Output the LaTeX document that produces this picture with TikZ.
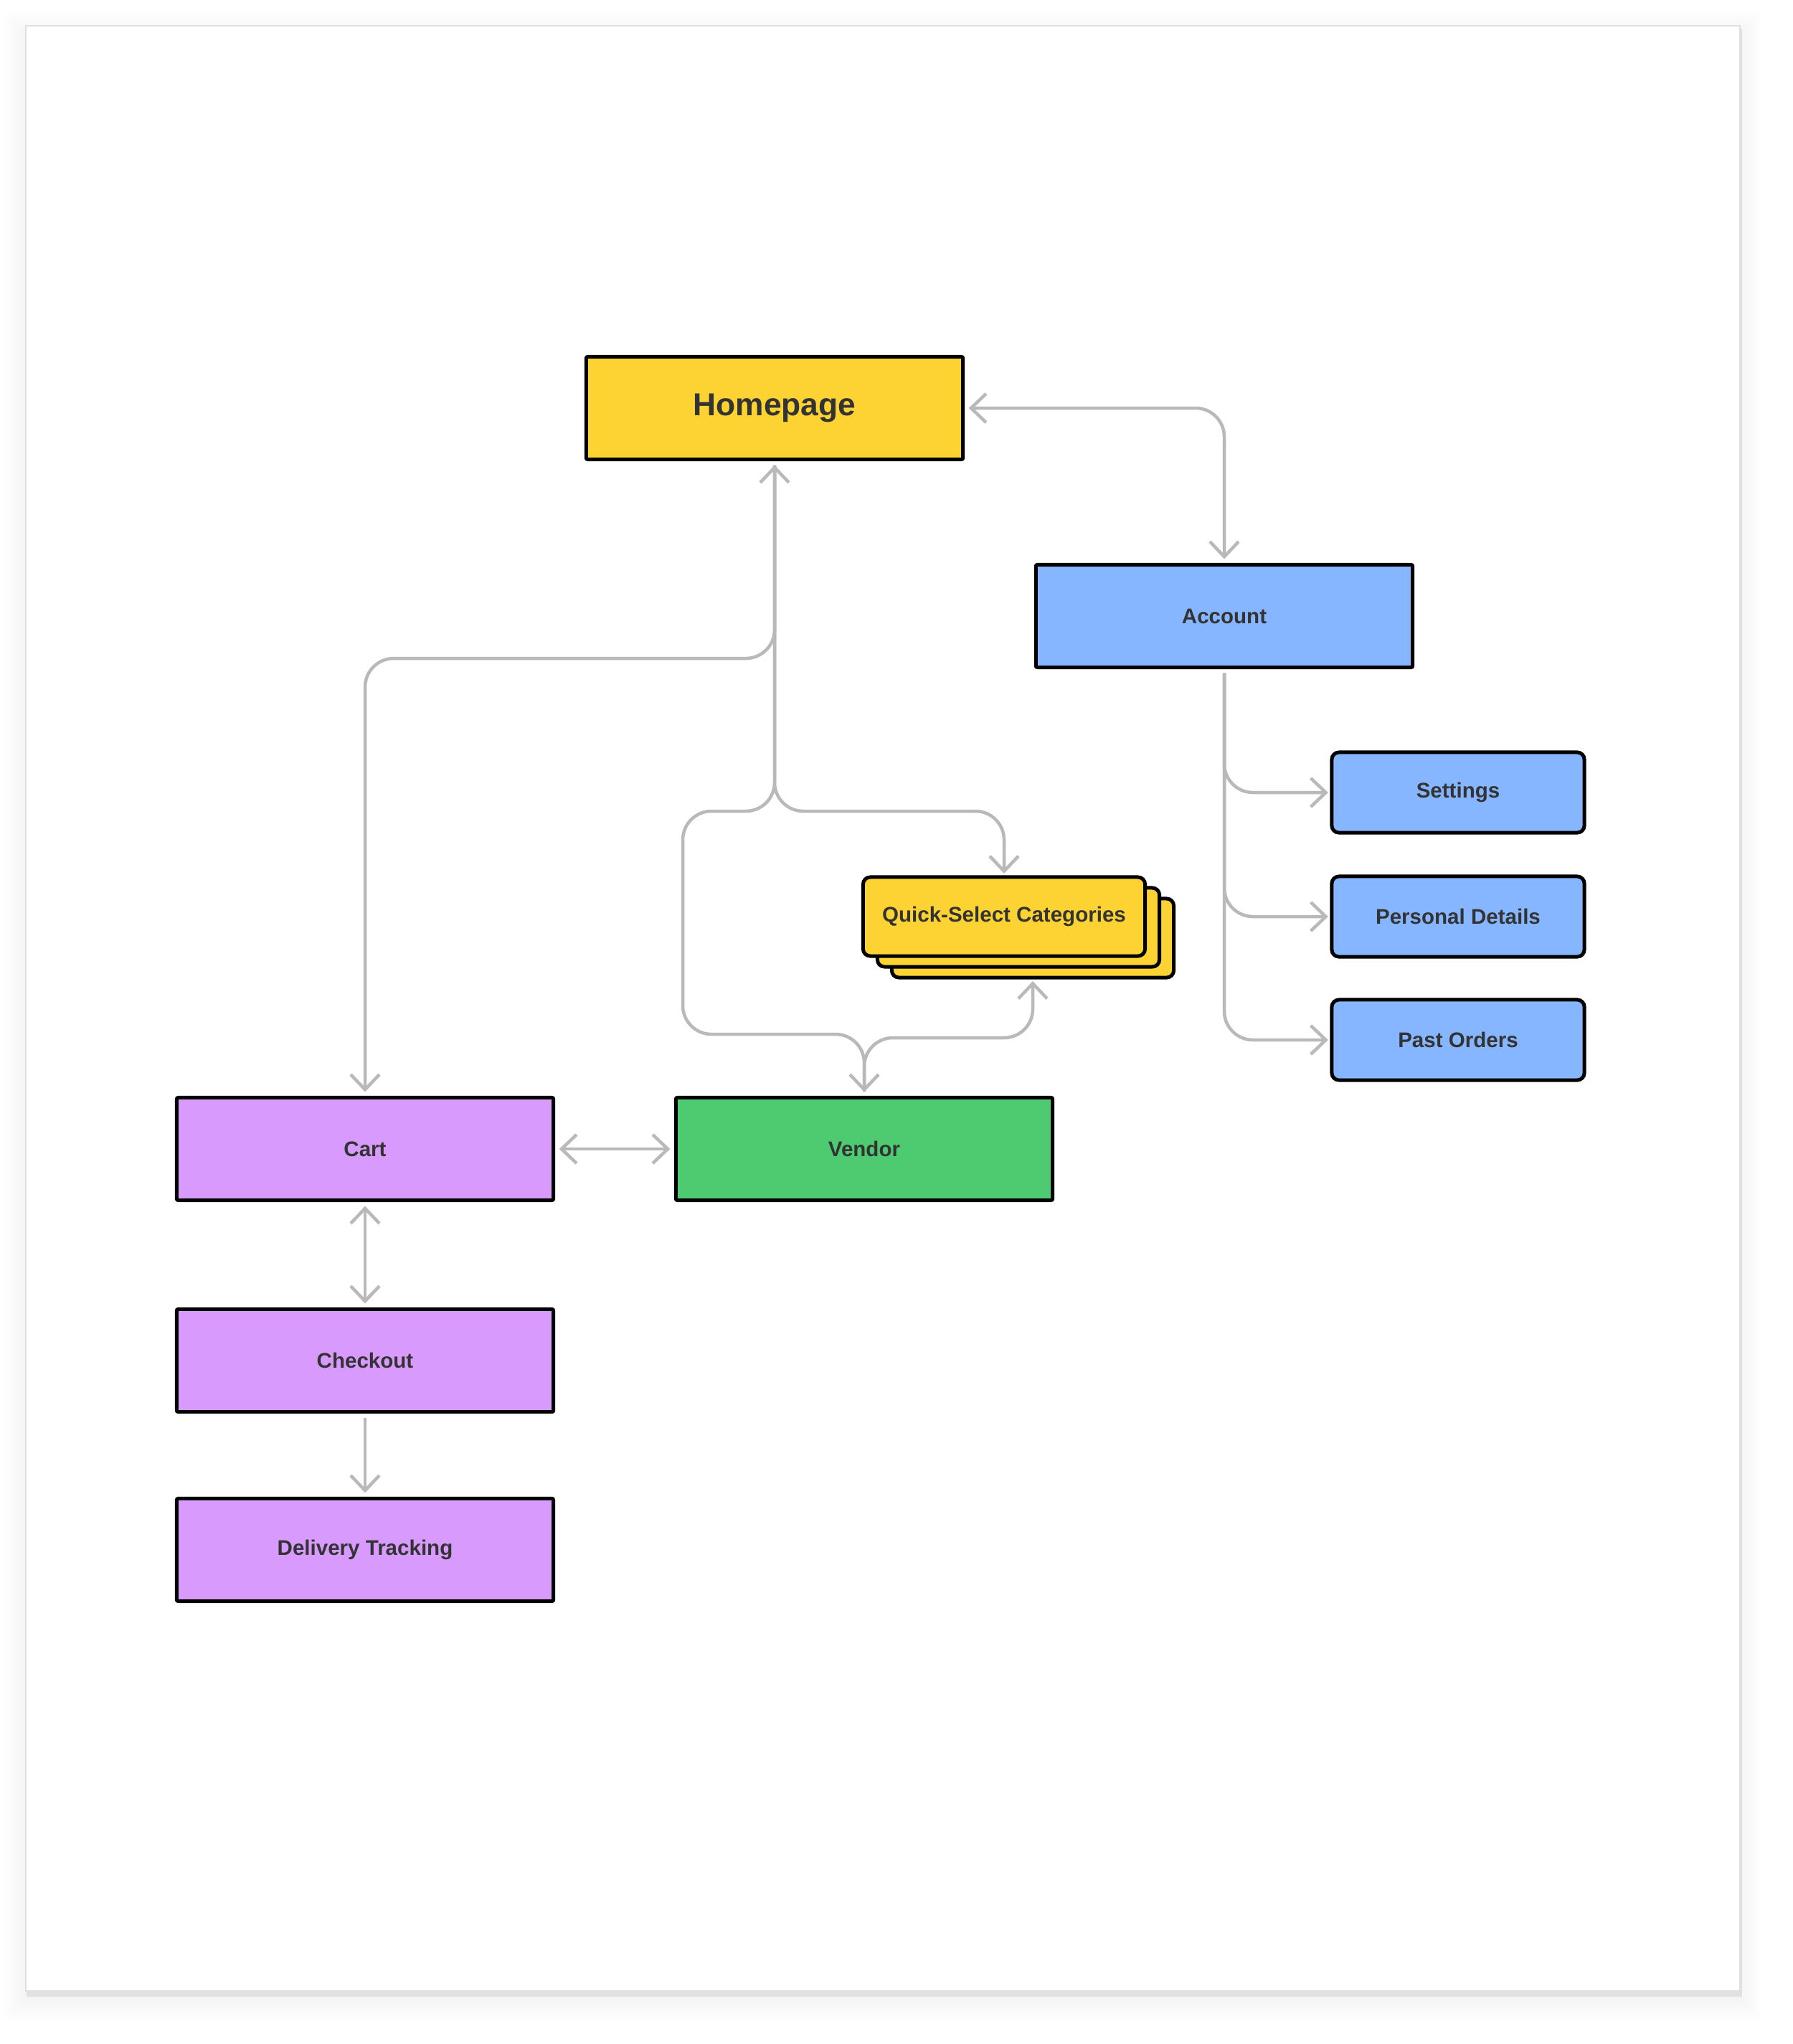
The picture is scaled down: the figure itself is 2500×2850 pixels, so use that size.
\documentclass[tikz,border=0pt]{standalone}
\usepackage{fontspec}
\setmainfont{Liberation Sans}
\usetikzlibrary{arrows.meta}
\definecolor{boxyellow}{RGB}{253,210,51}
\definecolor{boxblue}{RGB}{133,182,255}
\definecolor{boxpurple}{RGB}{216,155,253}
\definecolor{boxgreen}{RGB}{78,203,113}
\definecolor{linkgray}{RGB}{185,185,185}
\definecolor{labelgray}{RGB}{51,51,51}
\tikzset{
  bigbox/.style={draw=black, line width=0.05cm, minimum width=5.25cm, minimum height=1.43cm,
    rounded corners=0.02cm, outer sep=0.08cm, text=labelgray,
    font=\fontsize{8.4}{10}\selectfont\bfseries},
  subbox/.style={bigbox, minimum width=3.52cm, minimum height=1.12cm, rounded corners=0.1cm, outer sep=0.05cm},
  card/.style={subbox, fill=boxyellow, minimum width=3.93cm, minimum height=1.1cm},
  link/.style={draw=linkgray, line width=0.045cm, rounded corners=0.4cm}
}

\begin{document}
\begin{tikzpicture}[x=0.01cm, y=-0.01cm, >={Straight Barb[length=0.21cm,width=0.4cm]}]
	%%%%% PAGE %%%%%
	\useasboundingbox (0,0) rectangle (2500,2850);
	\fill[white] (0,0) rectangle (2500,2850);
	\foreach \s in {3,6,...,30}
		\fill[black, opacity=0.005] (36-\s, 36-\s+10) rectangle (2426+\s, 2776+\s+10);
	\fill[black, opacity=0.08] (37,40) rectangle (2429,2784);
	\draw[draw=black!12, fill=white, line width=0.02cm] (36,36) rectangle (2426,2776);
	
	%%%%% BOXES %%%%%
	\node[bigbox, fill=boxyellow, font=\fontsize{12.6}{15}\selectfont\bfseries] (home) at (1080,569) {Homepage};
	\node[bigbox, fill=boxblue] (acc) at (1707,859) {Account};
	
	\node[subbox, fill=boxblue] (set) at (2033,1105) {Settings};
	\node[subbox, fill=boxblue] (pd) at (2033,1278) {Personal Details};
	\node[subbox, fill=boxblue] (po) at (2033,1450) {Past Orders};
	
	\node[card] (qscback) at (1440,1308) {};
	\node[card] (qscmid) at (1420,1293) {};
	\node[card] (qsc) at (1400,1278) {Quick-Select Categories};
	
	\node[bigbox, fill=boxpurple] (cart) at (509,1602) {Cart};
	\node[bigbox, fill=boxgreen] (vendor) at (1205,1602) {Vendor};
	\node[bigbox, fill=boxpurple] (checkout) at (509,1897) {Checkout};
	\node[bigbox, fill=boxpurple] (track) at (509,2161) {Delivery Tracking};
	
	%%%%% BENDS %%%%%
	\coordinate (cartbend) at (509,918);
	\coordinate (qscbend) at (1400,1131);
	\coordinate (loopleft) at (952,1131);
	\coordinate (vendorbend) at (1205,1442);
	\coordinate (qscup) at (1440,1447);
	
	%%%%% LINKS %%%%%
	\draw[link, <->] (home.east) -| (acc.north);
	\draw[link, ->] (acc.south) |- (set.west);
	\draw[link, ->] (acc.south) |- (pd.west);
	\draw[link, ->] (acc.south) |- (po.west);
	
	\draw[link, <->] (home.south) |- (cartbend) -- (cart.north);
	\draw[link, ->] (home.south) |- (qscbend) -- (qsc.north);
	\draw[link, ->] (home.south) |- (loopleft) |- (vendorbend) -- (vendor.north);
	\draw[link, ->] (vendor.north) |- (qscup) -- (qscback.south);
	
	\draw[link, <->] (cart.east) -- (vendor.west);
	\draw[link, <->] (cart.south) -- (checkout.north);
	\draw[link, ->] (checkout.south) -- (track.north);
	%%%%% END %%%%%
\end{tikzpicture}
\end{document}
